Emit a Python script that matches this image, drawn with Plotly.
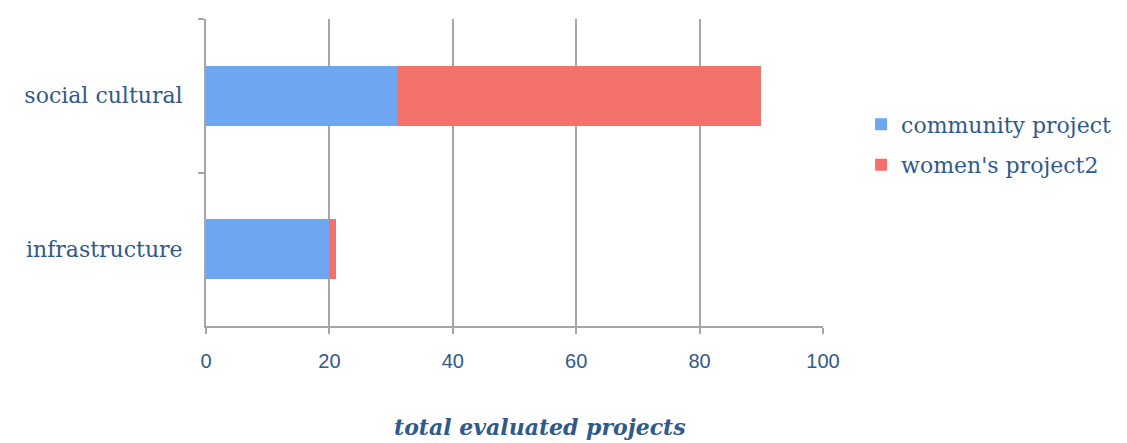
import plotly.graph_objects as go

categories = ["social cultural", "infrastructure"]
community_project = [31, 20]
womens_project2 = [59, 1]
x_ticks = [0, 20, 40, 60, 80, 100]
series_names = ["community project", "women's project2"]
x_title = "total evaluated projects"

text_color = "#2F5A8C"
grid_color = "#A6A6A6"

fig = go.Figure()
fig.add_trace(go.Bar(
    y=categories, x=community_project, orientation="h", name=series_names[0],
    legendgroup="a",
    marker=dict(color="#6EA6F2", line=dict(width=0)), width=0.39,
))
fig.add_trace(go.Bar(
    y=categories, x=womens_project2, orientation="h", name=series_names[1],
    legendgroup="b",
    marker=dict(color="#F2716A", line=dict(width=0)), width=0.39,
))

fig.add_annotation(
    text="<b><i>" + x_title + "</i></b>",
    xref="paper", yref="paper", x=0.542, y=-0.33,
    xanchor="center", yanchor="middle", showarrow=False,
    font=dict(family="DejaVu Serif", size=22, color=text_color),
)

fig.update_layout(
    barmode="stack",
    width=1127, height=443,
    margin=dict(l=206, r=303, t=19, b=117),
    plot_bgcolor="white", paper_bgcolor="white",
    showlegend=True,
    legend=dict(
        x=1.06, y=0.725, xanchor="left", yanchor="top",
        traceorder="grouped",
        font=dict(family="DejaVu Serif", size=22, color=text_color),
        itemsizing="constant", tracegroupgap=9,
    ),
    xaxis=dict(
        range=[0, 100], tickvals=x_ticks, ticktext=[str(v) for v in x_ticks],
        showgrid=True, gridcolor=grid_color, gridwidth=2,
        showline=True, linecolor=grid_color, linewidth=2,
        ticks="outside", ticklen=6, tickcolor=grid_color, tickwidth=2,
        ticklabelstandoff=10,
        tickfont=dict(family="Liberation Sans", size=20, color=text_color),
        zeroline=False,
    ),
    yaxis=dict(
        type="category", autorange="reversed",
        showline=True, linecolor=grid_color, linewidth=2,
        ticks="outside", tickson="boundaries", ticklen=6, tickcolor=grid_color, tickwidth=2,
        ticklabelstandoff=17,
        tickfont=dict(family="DejaVu Serif", size=22, color=text_color),
        showgrid=False, zeroline=False,
    ),
)

fig.write_html("out.html")
